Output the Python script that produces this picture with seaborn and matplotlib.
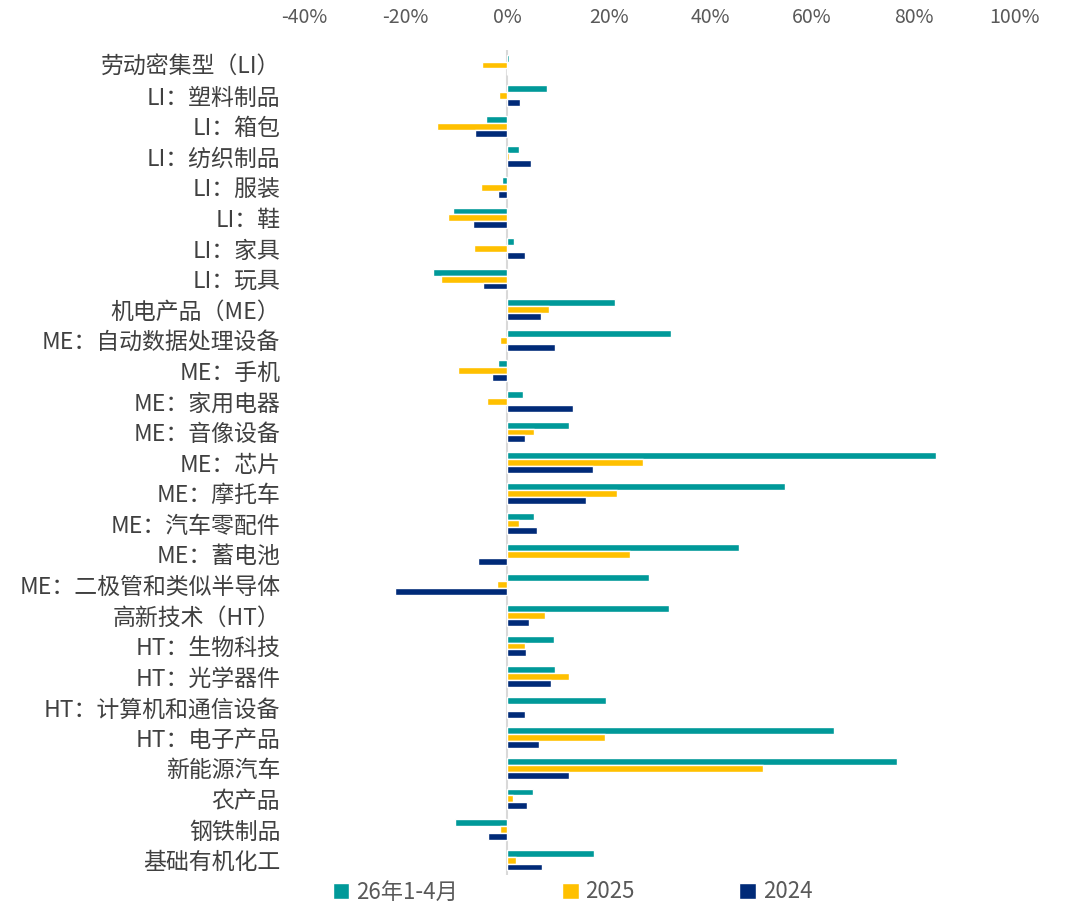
import pandas as pd
import numpy as np
import matplotlib
matplotlib.use('Agg')
import matplotlib.pyplot as plt
import seaborn as sns
from matplotlib.ticker import FuncFormatter

categories = [
    '劳动密集型（LI）', 'LI：塑料制品', 'LI：箱包', 'LI：纺织制品', 'LI：服装', 'LI：鞋',
    'LI：家具', 'LI：玩具', '机电产品（ME）', 'ME：自动数据处理设备', 'ME：手机',
    'ME：家用电器', 'ME：音像设备', 'ME：芯片', 'ME：摩托车', 'ME：汽车零配件',
    'ME：蓄电池', 'ME：二极管和类似半导体', '高新技术（HT）', 'HT：生物科技',
    'HT：光学器件', 'HT：计算机和通信设备', 'HT：电子产品', '新能源汽车', '农产品',
    '钢铁制品', '基础有机化工',
]
series_names = ['26年1-4月', '2025', '2024']

# 同比增速（%）
v_26 = [0.3, 7.9, -4.2, 2.4, -1.0, -10.6, 1.4, -14.5, 21.3, 32.2, -1.7, 3.2, 12.1, 84.4,
        54.8, 5.3, 45.7, 28.0, 31.8, 9.3, 9.4, 19.4, 64.4, 76.7, 5.1, -10.3, 17.2]
v_2025 = [-4.9, -1.6, -13.8, 0.4, -5.2, -11.6, -6.5, -13.1, 8.3, -1.4, -9.7, -3.9, 5.2, 26.7,
          21.6, 2.4, 24.1, -2.0, 7.4, 3.5, 12.1, 0.2, 19.2, 50.3, 1.1, -1.4, 1.7]
v_2024 = [0.0, 2.6, -6.3, 4.7, -1.8, -6.8, 3.5, -4.8, 6.6, 9.5, -3.0, 12.9, 3.5, 16.9,
          15.6, 5.9, -5.8, -22.0, 4.3, 3.8, 8.7, 3.5, 6.2, 12.1, 4.0, -3.7, 6.8]

colors = ['#009999', '#FFC000', '#002A78']

# 整理成长表
df = pd.DataFrame({
    'category': categories * 3,
    'series': [series_names[0]] * len(categories) + [series_names[1]] * len(categories)
              + [series_names[2]] * len(categories),
    'value': v_26 + v_2025 + v_2024,
})

sns.set_style('white')
plt.rcParams['font.family'] = ['Noto Sans CJK SC', 'DejaVu Sans']

fig = plt.figure(figsize=(10.76, 9.06), dpi=100)
ax = fig.add_axes([0.2825, 0.0338, 0.6608, 0.9113])

ax.axvline(0, color='#d9d9d9', lw=1.5, zorder=0)
sns.barplot(data=df, x='value', y='category', hue='series', orient='h',
            palette=colors, width=0.68, saturation=1, order=categories,
            hue_order=series_names, ax=ax, errorbar=None, zorder=2)

ax.set_xlim(-40, 100)
ax.set_ylim(len(categories) - 0.5, -0.5)
ax.set_xticks(np.arange(-40, 101, 20))
ax.xaxis.set_major_formatter(FuncFormatter(lambda v, p: f'{v:.0f}%'))
ax.xaxis.tick_top()
ax.tick_params(axis='x', length=0, pad=16, labelsize=14, labelcolor='#595959')
ax.tick_params(axis='y', length=0, pad=17, labelsize=16.5, labelcolor='#404040')
ax.set_xlabel('')
ax.set_ylabel('')
for s in ax.spines.values():
    s.set_visible(False)

handles, labels = ax.get_legend_handles_labels()
ax.get_legend().remove()
fig.legend(handles, labels, loc='center', bbox_to_anchor=(0.532, 0.0155), ncol=3,
           frameon=False, fontsize=16, handlelength=0.75, handleheight=0.75,
           handletextpad=0.3, columnspacing=4.7, labelcolor='#595959')

fig.savefig('out.png', dpi=100)
